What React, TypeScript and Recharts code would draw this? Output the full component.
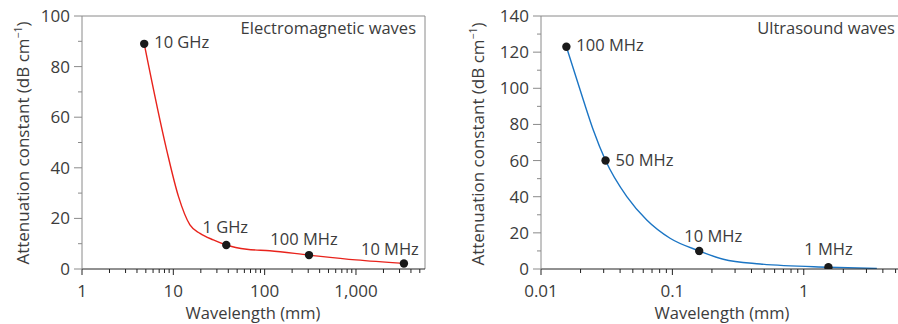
import { ComposedChart, Line, Scatter, XAxis, YAxis, ReferenceLine } from "recharts";

// Electromagnetic waves (left panel)
const emPointWavelength = [4.8, 38, 306, 3350];
const emPointAttenuation = [89, 9.5, 5.5, 2.2];
const emPointLabels = ["10 GHz", "1 GHz", "100 MHz", "10 MHz"];
const emCurveWavelength = [4.8, 8.46, 11.4, 15.2, 19.6, 27.4, 38, 63.6, 114, 306, 1000, 3350];
const emCurveAttenuation = [89, 47, 28.6, 17.4, 14.1, 11.5, 9.5, 7.8, 7.2, 5.5, 3.6, 2.2];
const emXTicks = [1, 2, 3, 4, 5, 6, 7, 8, 9, 10, 20, 30, 40, 50, 60, 70, 80, 90, 100, 200, 300, 400, 500, 600, 700, 800, 900, 1000, 2000, 3000, 4000, 5000];
const emXMajor = [1, 10, 100, 1000];
const emXLabels = ["1", "10", "100", "1,000"];
const emYTicks = [0, 10, 20, 30, 40, 50, 60, 70, 80, 90, 100];

// Ultrasound waves (right panel)
const usPointWavelength = [0.0156, 0.031, 0.16, 1.54];
const usPointAttenuation = [123, 60, 10, 1];
const usPointLabels = ["100 MHz", "50 MHz", "10 MHz", "1 MHz"];
const usCurveWavelength = [0.0156, 0.021, 0.025, 0.031, 0.045, 0.0638, 0.096, 0.16, 0.244, 0.466, 1.54, 3.6];
const usCurveAttenuation = [123, 93.5, 76.9, 60, 40, 27.1, 17, 10, 5.4, 2.8, 1, 0.3];
const usXTicks = [0.01, 0.02, 0.03, 0.04, 0.05, 0.06, 0.07, 0.08, 0.09, 0.1, 0.2, 0.3, 0.4, 0.5, 0.6, 0.7, 0.8, 0.9, 1, 2, 3, 4, 5];
const usXMajor = [0.01, 0.1, 1];
const usXLabels = ["0.01", "0.1", "1"];
const usYTicks = [0, 10, 20, 30, 40, 50, 60, 70, 80, 90, 100, 110, 120, 130, 140];

const FONT = "'Open Sans', sans-serif";
const TEXT = "#3c3c3c";
const GREY = "#8a8a8a";

type Pt = { x: number; y: number; label?: string };
type Place = { dx: number; dy: number; anchor: "start" | "middle" | "end" };

function zip(xs: number[], ys: number[], labels?: string[]): Pt[] {
  return xs.map((x, i) => ({ x, y: ys[i], label: labels ? labels[i] : undefined }));
}

type PanelProps = {
  left: number;
  width: number;
  yAxisWidth: number;
  marginRight: number;
  xDomain: [number, number];
  xTicks: number[];
  xMajor: number[];
  xLabels: string[];
  yDomain: [number, number];
  yTicks: number[];
  curve: Pt[];
  points: Pt[];
  places: Place[];
  color: string;
};

function Panel(p: PanelProps) {
  const XTick = (props: any) => {
    const { x, y, payload } = props;
    const idx = p.xMajor.indexOf(payload.value);
    const major = idx >= 0;
    return (
      <g>
        <line x1={x} x2={x} y1={y} y2={y + (major ? 6 : 4)} stroke="#222" strokeWidth={1} />
        {major && (
          <text x={x} y={y + 22} dy="0.35em" textAnchor="middle" fontSize={17} fontFamily={FONT} fill={TEXT}>
            {p.xLabels[idx]}
          </text>
        )}
      </g>
    );
  };
  const YTick = (props: any) => {
    const { x, y, payload } = props;
    const major = payload.value % 20 === 0;
    return (
      <g>
        <line x1={x} x2={x - (major ? 8 : 4)} y1={y} y2={y} stroke={GREY} strokeWidth={1} />
        {major && (
          <text x={x - 12} y={y} dy="0.35em" textAnchor="end" fontSize={17} fontFamily={FONT} fill={TEXT}>
            {payload.value}
          </text>
        )}
      </g>
    );
  };
  const Dot = (props: any) => {
    const { cx, cy, index } = props;
    const pl = p.places[index];
    const pt = p.points[index];
    return (
      <g>
        <circle cx={cx} cy={cy} r={4.2} fill="#1a1a1a" />
        <text x={cx + pl.dx} y={cy + pl.dy} dy="0.35em" textAnchor={pl.anchor} fontSize={16.5} fontFamily={FONT} fill={TEXT}>
          {pt.label}
        </text>
      </g>
    );
  };
  return (
    <div style={{ position: "absolute", left: p.left, top: 0 }}>
      <ComposedChart width={p.width} height={324} margin={{ top: 16, right: p.marginRight, left: 0, bottom: 25 }}>
        <XAxis
          type="number"
          dataKey="x"
          scale="log"
          domain={p.xDomain}
          allowDataOverflow
          ticks={p.xTicks}
          interval={0}
          tick={<XTick />}
          tickSize={0}
          tickMargin={0}
          tickLine={false}
          axisLine={{ stroke: "#222", strokeWidth: 1 }}
          height={30}
        />
        <YAxis
          type="number"
          dataKey="y"
          domain={p.yDomain}
          allowDataOverflow
          ticks={p.yTicks}
          interval={0}
          tick={<YTick />}
          tickSize={0}
          tickMargin={0}
          tickLine={false}
          axisLine={{ stroke: GREY, strokeWidth: 1 }}
          width={p.yAxisWidth}
        />
        <ReferenceLine y={p.yDomain[1]} stroke={GREY} strokeWidth={1} />
        <ReferenceLine x={p.xDomain[1]} stroke={GREY} strokeWidth={1} />
        <Line
          data={p.curve}
          dataKey="y"
          type="monotone"
          stroke={p.color}
          strokeWidth={1.4}
          dot={false}
          activeDot={false}
          isAnimationActive={false}
        />
        <Scatter data={p.points} dataKey="y" shape={<Dot />} isAnimationActive={false} />
      </ComposedChart>
    </div>
  );
}

function YTitle({ x, y }: { x: number; y: number }) {
  return (
    <text transform={`translate(${x},${y}) rotate(-90)`} textAnchor="middle" fontSize={17} fontFamily={FONT} fill={TEXT}>
      Attenuation constant (dB cm
      <tspan baselineShift="super" fontSize={10.5}>−1</tspan>)
    </text>
  );
}

export default function App() {
  return (
    <div style={{ position: "fixed", left: 0, top: 0, width: 898, height: 324, overflow: "hidden", background: "#fff" }}>
      <Panel
        left={0}
        width={450}
        yAxisWidth={82}
        marginRight={25}
        xDomain={[1, 5700]}
        xTicks={emXTicks}
        xMajor={emXMajor}
        xLabels={emXLabels}
        yDomain={[0, 100]}
        yTicks={emYTicks}
        curve={zip(emCurveWavelength, emCurveAttenuation)}
        points={zip(emPointWavelength, emPointAttenuation, emPointLabels)}
        places={[
          { dx: 10, dy: -2, anchor: "start" },
          { dx: -1, dy: -18, anchor: "middle" },
          { dx: -5, dy: -16, anchor: "middle" },
          { dx: -14, dy: -14, anchor: "middle" },
        ]}
        color="#e8231c"
      />
      <Panel
        left={450}
        width={470}
        yAxisWidth={91}
        marginRight={14}
        xDomain={[0.01, 6]}
        xTicks={usXTicks}
        xMajor={usXMajor}
        xLabels={usXLabels}
        yDomain={[0, 140]}
        yTicks={usYTicks}
        curve={zip(usCurveWavelength, usCurveAttenuation)}
        points={zip(usPointWavelength, usPointAttenuation, usPointLabels)}
        places={[
          { dx: 10, dy: -1, anchor: "start" },
          { dx: 10, dy: 0, anchor: "start" },
          { dx: 14, dy: -15, anchor: "middle" },
          { dx: 0, dy: -18, anchor: "middle" },
        ]}
        color="#1b75c4"
      />
      <svg width={898} height={324} style={{ position: "absolute", left: 0, top: 0, pointerEvents: "none" }}>
        <text x={416} y={34} textAnchor="end" fontSize={16.5} fontFamily={FONT} fill={TEXT}>Electromagnetic waves</text>
        <text x={895} y={34} textAnchor="end" fontSize={16.5} fontFamily={FONT} fill={TEXT}>Ultrasound waves</text>
        <text x={253} y={319} textAnchor="middle" fontSize={16.5} fontFamily={FONT} fill={TEXT}>Wavelength (mm)</text>
        <text x={722} y={319} textAnchor="middle" fontSize={16.5} fontFamily={FONT} fill={TEXT}>Wavelength (mm)</text>
        <YTitle x={29} y={143} />
        <YTitle x={484} y={144} />
      </svg>
    </div>
  );
}
